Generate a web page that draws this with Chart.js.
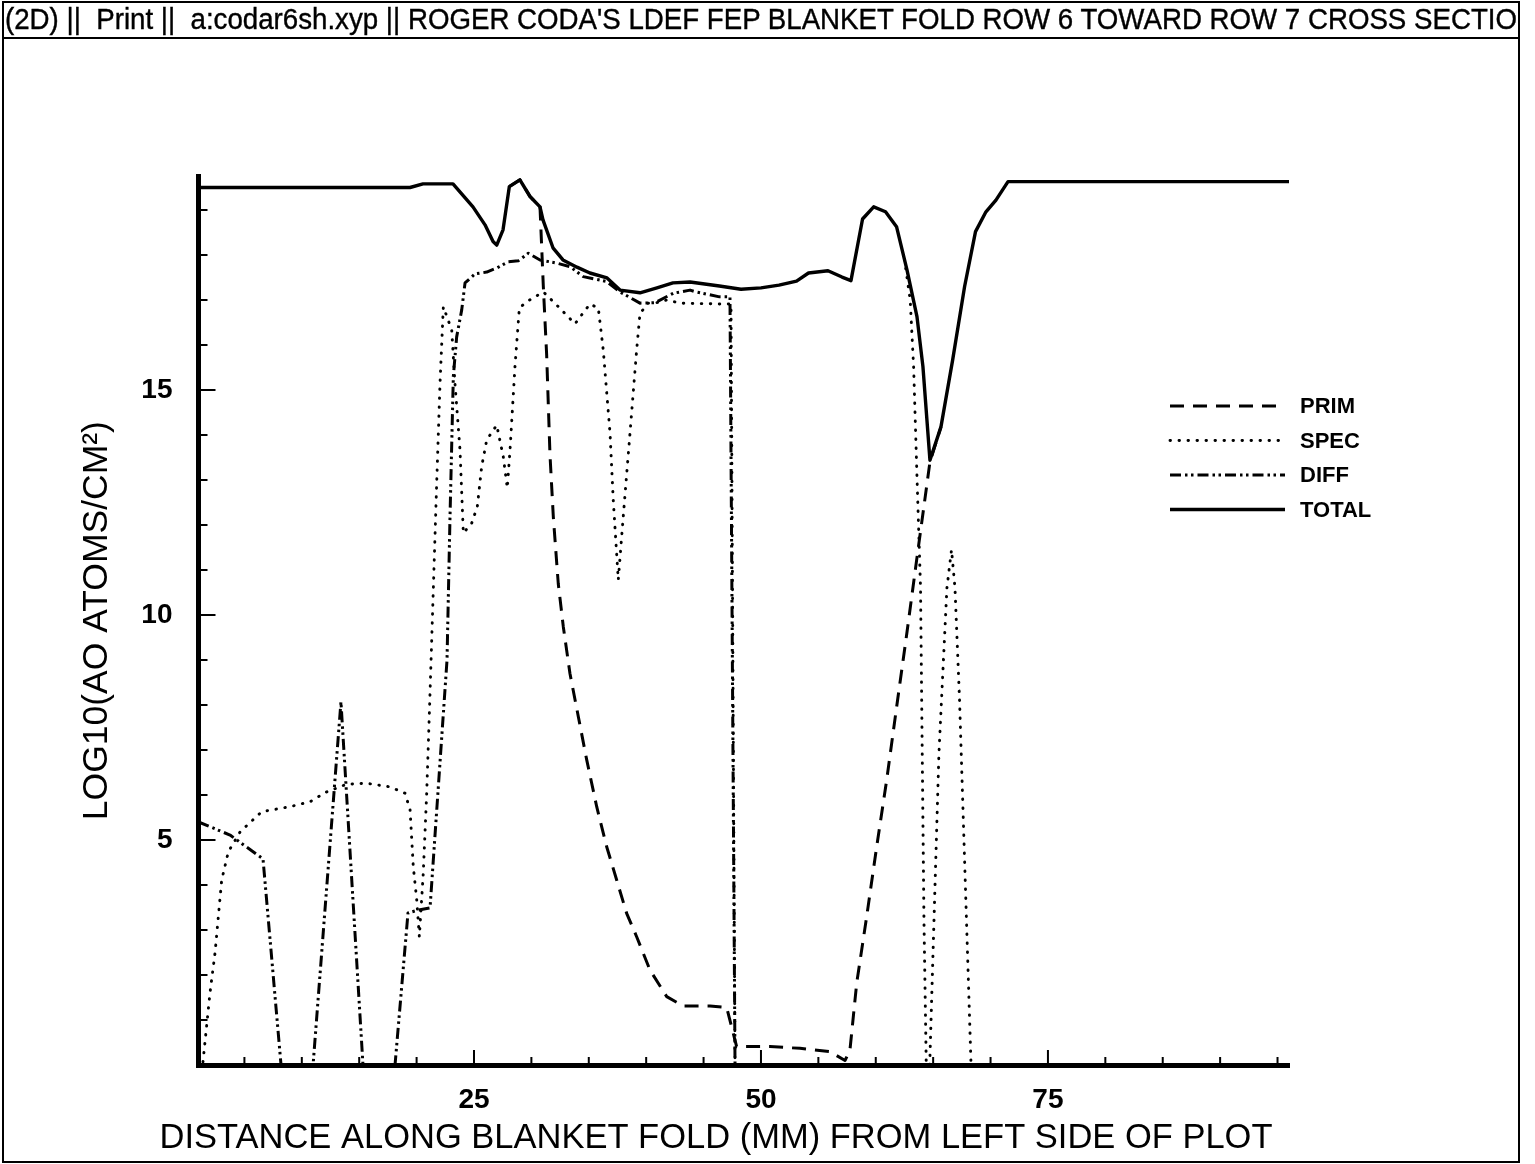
<!DOCTYPE html>
<html>
<head>
<meta charset="utf-8">
<script src="https://cdn.jsdelivr.net/npm/chart.js@4.4.1/dist/chart.umd.min.js"></script>
<style>
html,body{margin:0;padding:0;background:#fff;}
#wrap{position:relative;width:1535px;height:1164px;overflow:hidden;background:#fff;}
#chart{position:absolute;left:0;top:0;}
#frame{position:absolute;left:2px;top:1px;width:1518px;height:1162px;border:2px solid #000;box-sizing:border-box;pointer-events:none;}
#hline{position:absolute;left:2px;top:37px;width:1518px;height:2px;background:#000;}
#header{position:absolute;left:5px;top:2px;width:1513px;height:35px;overflow:hidden;white-space:pre;}
#htext{display:inline-block;font-family:"Liberation Sans Narrow","Liberation Sans",Arial,sans-serif;font-size:29px;line-height:35px;color:#000;transform-origin:0 0;-webkit-text-stroke:0.4px #000;}
#measure{position:absolute;visibility:hidden;white-space:pre;font-family:"Liberation Sans Narrow","Liberation Sans",Arial,sans-serif;font-size:29px;}
</style>
</head>
<body>
<div id="wrap">
  <canvas id="chart" width="1535" height="1164"></canvas>
  <div id="frame"></div>
  <div id="hline"></div>
  <div id="header"><span id="htext">(2D) ||  Print ||  a:codar6sh.xyp || ROGER CODA'S LDEF FEP BLANKET FOLD ROW 6 TOWARD ROW 7 CROSS SECTION</span></div>
  <span id="measure">(2D) ||  Print ||  a:codar6sh.xyp || ROGER CODA'S LDEF FEP BLANKET FOLD ROW 6 TOWARD ROW 7 CROSS SECTIO</span>
</div>
<script>
// ---------- data ----------
const seriesLabels = ["PRIM", "SPEC", "DIFF", "TOTAL"];

const primX = [28.08, 29.0, 29.88, 30.75, 31.04, 31.33, 31.62, 31.91, 32.34, 32.78, 33.36, 34.09, 34.82, 35.69, 36.56, 37.43, 38.30, 39.17, 40.33, 41.79, 43.23, 45.56, 47.01, 47.88, 50.78, 53.40, 56.00, 57.32, 57.75, 58.34, 59.21, 60.08, 60.95, 61.82, 62.69, 63.56, 64.72, 65.68];
const primY = [19.52, 19.67, 19.30, 19.07, 17.30, 15.78, 13.56, 12.18, 10.70, 9.74, 8.70, 7.74, 6.78, 5.74, 4.85, 4.11, 3.37, 2.85, 2.11, 1.52, 1.31, 1.31, 1.28, 0.41, 0.41, 0.37, 0.30, 0.10, 0.33, 1.82, 3.30, 4.85, 6.33, 7.96, 9.56, 11.22, 13.40, 14.18];

const specX = [1.39, 2.0, 2.44, 3.02, 3.60, 4.62, 6.51, 8.97, 10.71, 12.17, 13.91, 15.65, 17.68, 18.99, 19.43, 19.71, 20.01, 20.24, 20.58, 20.88, 21.17, 21.75, 22.04, 22.33, 23.06, 23.34, 23.78, 24.07, 24.80, 25.29, 25.67, 26.11, 26.98, 27.55, 27.90, 28.14, 28.57, 28.95, 29.59, 31.04, 32.20, 33.80, 34.38, 35.10, 35.83, 36.26, 36.85, 37.13, 37.57, 38.0, 38.59, 39.17, 39.46, 40.18, 40.91, 41.79, 42.94, 46.56, 47.39, 47.74, 55.0, 62.5, 63.0, 63.3, 63.6, 63.9, 64.05, 64.2, 64.4, 64.7, 65.5, 66.2, 66.6, 66.9, 67.3, 68.3];
const specY = [0.07, 1.6, 2.49, 4.11, 4.74, 5.18, 5.63, 5.74, 5.85, 6.07, 6.24, 6.26, 6.18, 6.04, 5.67, 4.41, 3.67, 2.85, 4.26, 6.04, 8.27, 12.93, 15.15, 16.85, 16.33, 15.15, 13.67, 11.82, 12.04, 12.41, 13.30, 13.89, 14.22, 13.52, 12.82, 13.67, 15.52, 16.82, 16.96, 17.18, 16.89, 16.47, 16.67, 16.91, 16.82, 15.89, 14.04, 12.56, 10.78, 12.18, 14.04, 15.89, 16.70, 16.93, 16.94, 17.0, 16.93, 16.91, 16.91, 0, null, 17.9, 17.0, 15.5, 13.0, 10.6, 6.9, 3.2, 0, 0, 6.9, 10.6, 11.45, 10.6, 8.1, 0];

const diffX = [1.0, 3.75, 6.62, 8.19, 10.98, 13.41, 15.33, 18.12, 19.25, 20.12, 21.17, 22.65, 22.91, 23.20, 23.49, 23.93, 24.22, 25.09, 26.11, 26.98, 27.99, 28.86, 29.73, 30.75, 32.20, 33.36, 34.52, 36.56, 37.72, 39.46, 40.77, 42.36, 43.82, 44.34, 46.39, 47.30, 47.74];
const diffY = [5.40, 5.11, 4.58, 0, 0, 8.07, 0, 0, 3.38, 3.44, 3.49, 9.0, 12.18, 15.30, 16.18, 16.78, 17.38, 17.58, 17.62, 17.71, 17.85, 17.87, 18.04, 17.89, 17.82, 17.74, 17.52, 17.41, 17.18, 16.93, 16.94, 17.15, 17.22, 17.18, 17.07, 17.07, 0];

const totalX = [1.0, 19.43, 20.56, 23.17, 24.91, 25.96, 26.66, 26.98, 27.53, 28.08, 29.0, 29.88, 30.75, 31.01, 31.88, 32.75, 33.97, 35.10, 36.59, 37.72, 39.46, 40.94, 42.33, 43.82, 46.38, 48.26, 50.0, 51.57, 53.10, 54.14, 55.84, 57.06, 57.84, 58.85, 59.82, 60.85, 61.81, 62.72, 63.59, 64.11, 64.72, 65.68, 66.70, 67.74, 68.69, 69.60, 70.47, 71.52, 96.0];
const totalY = [19.50, 19.50, 19.58, 19.58, 19.07, 18.67, 18.30, 18.22, 18.56, 19.52, 19.67, 19.30, 19.07, 18.78, 18.16, 17.89, 17.73, 17.60, 17.49, 17.22, 17.16, 17.27, 17.38, 17.40, 17.31, 17.24, 17.27, 17.33, 17.42, 17.60, 17.65, 17.51, 17.43, 18.80, 19.07, 18.96, 18.63, 17.67, 16.63, 15.52, 13.44, 14.18, 15.67, 17.30, 18.52, 18.96, 19.22, 19.63, 19.63];

const xTickLabels = [25, 50, 75];
const yTickLabels = [5, 10, 15];
const xTitle = "DISTANCE ALONG BLANKET FOLD (MM) FROM LEFT SIDE OF PLOT";
const yTitle = "LOG10(AO ATOMS/CM\u00B2)";

// ---------- build ----------
const pts = (xs, ys) => xs.map((x, i) => ({x: x, y: ys[i]}));

const styles = [
  {borderDash: [14, 9], borderWidth: 3, borderCapStyle: 'butt', order: 1},
  {borderDash: [0.5, 8.5], borderWidth: 2.9, borderCapStyle: 'round', order: 2},
  {borderDash: [11, 4, 2.5, 3.5, 2.5, 4], borderWidth: 3, borderCapStyle: 'butt', order: 3},
  {borderDash: [], borderWidth: 3.4, borderCapStyle: 'butt', order: 0}
];
const dataSets = [pts(primX, primY), pts(specX, specY), pts(diffX, diffY), pts(totalX, totalY)];

const datasets = seriesLabels.map((lab, i) => Object.assign({
  label: lab,
  data: dataSets[i],
  borderColor: '#000',
  backgroundColor: '#000',
  pointRadius: 0,
  tension: 0,
  spanGaps: false,
  fill: false,
  borderJoinStyle: 'round'
}, styles[i]));

const FONT = '"Liberation Sans", Arial, sans-serif';

const decor = {
  id: 'decor',
  afterDatasetsDraw(chart) {
    const {ctx, chartArea: a, scales} = chart;
    const xs = scales.x, ys = scales.y;
    ctx.save();
    ctx.strokeStyle = '#000';
    ctx.lineWidth = 2;
    ctx.setLineDash([]);
    ctx.beginPath();
    for (let v = 5; v < 96; v += 5) {
      const px = xs.getPixelForValue(v);
      const len = xTickLabels.includes(v) ? 15 : 8;
      ctx.moveTo(px, a.bottom);
      ctx.lineTo(px, a.bottom - len);
    }
    for (let v = 1; v < 20; v += 1) {
      const py = ys.getPixelForValue(v);
      const len = yTickLabels.includes(v) ? 17 : 9;
      ctx.moveTo(a.left, py);
      ctx.lineTo(a.left + len, py);
    }
    ctx.stroke();

    // legend
    const lx0 = 1170, lx1 = 1285, ly0 = 406, dy = 34.5;
    chart.data.datasets.forEach((ds, i) => {
      const y = ly0 + i * dy;
      ctx.save();
      ctx.lineWidth = ds.borderWidth;
      ctx.lineCap = ds.borderCapStyle;
      ctx.setLineDash(ds.borderDash);
      ctx.beginPath();
      ctx.moveTo(lx0, y);
      ctx.lineTo(lx1, y);
      ctx.stroke();
      ctx.restore();
      ctx.fillStyle = '#000';
      ctx.font = 'bold 22px ' + FONT;
      ctx.textAlign = 'left';
      ctx.textBaseline = 'middle';
      ctx.fillText(ds.label, 1300, y + 1);
    });

    // x axis title (positioned as in the reference, slightly left of the axis centre)
    ctx.fillStyle = '#000';
    ctx.font = '34.5px ' + FONT;
    ctx.textAlign = 'center';
    ctx.textBaseline = 'middle';
    ctx.fillText(xTitle, 716, 1138);
    ctx.restore();
  }
};

new Chart(document.getElementById('chart').getContext('2d'), {
  type: 'line',
  data: {datasets: datasets},
  options: {
    responsive: false,
    animation: false,
    layout: {padding: {left: 0, top: 176.25, right: 246, bottom: 0}},
    plugins: {legend: {display: false}, tooltip: {enabled: false}, title: {display: false}},
    scales: {
      x: {
        type: 'linear', min: 1, max: 96,
        afterFit: s => { s.height = 99; },
        afterBuildTicks: s => { s.ticks = xTickLabels.map(v => ({value: v})); },
        grid: {drawOnChartArea: false, drawTicks: false},
        border: {display: true, color: '#000', width: 5},
        ticks: {color: '#000', padding: 18, maxRotation: 0, autoSkip: false,
                font: {family: FONT, size: 28, weight: 'bold'}},
        title: {display: false}
      },
      y: {
        type: 'linear', min: 0, max: 19.75,
        afterFit: s => { s.width = 198.5; },
        afterBuildTicks: s => { s.ticks = yTickLabels.map(v => ({value: v})); },
        grid: {drawOnChartArea: false, drawTicks: false},
        border: {display: true, color: '#000', width: 5},
        ticks: {color: '#000', padding: 26, autoSkip: false,
                font: {family: FONT, size: 28, weight: 'bold'}},
        title: {display: true, text: yTitle, color: '#000',
                font: {family: FONT, size: 35.5}, padding: {top: 76, bottom: 0}}
      }
    }
  },
  plugins: [decor]
});

// header text fitting
(function(){
  const m = document.getElementById('measure');
  const w = m.getBoundingClientRect().width;
  const sc = 1512 / w;
  document.getElementById('htext').style.transform = 'scaleX(' + sc + ')';
})();
</script>
</body>
</html>
